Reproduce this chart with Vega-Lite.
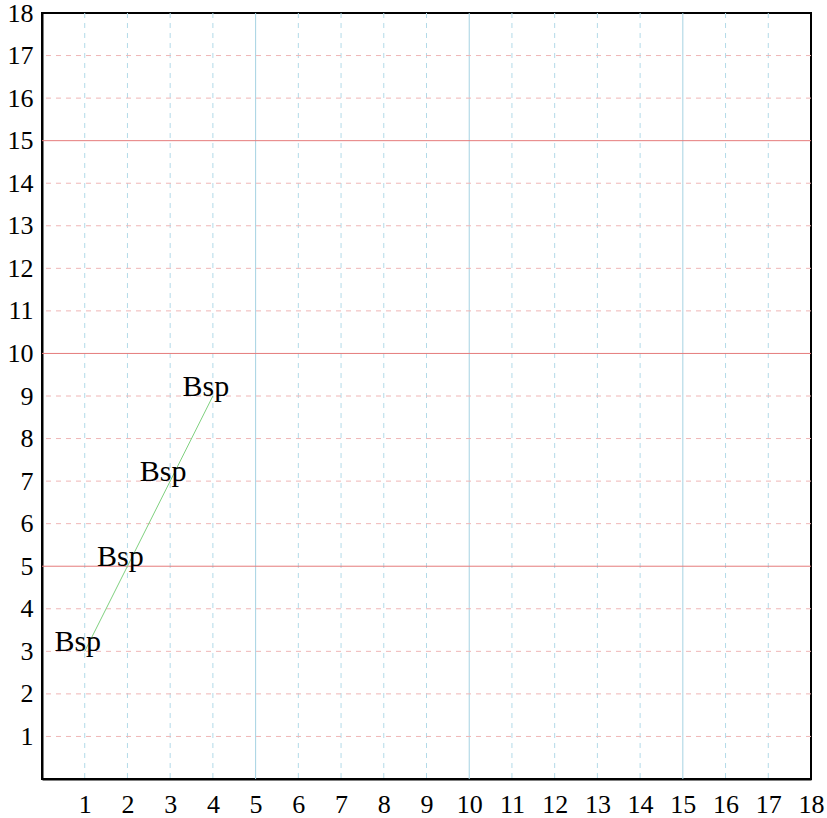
{
  "$schema": "https://vega.github.io/schema/vega-lite/v6.json",
  "autosize": {"type": "none"},
  "width": 769,
  "height": 766,
  "padding": {"left": 42, "top": 13, "right": 16, "bottom": 39},
  "background": "white",
  "config": {
    "view": {"stroke": "black", "strokeWidth": 2},
    "axis": {
      "labelFont": "Liberation Serif",
      "labelFontSize": 26,
      "labelColor": "black",
      "labelFlush": false,
      "labelOverlap": false,
      "labelBound": false,
      "ticks": false,
      "grid": false,
      "domainColor": "black",
      "domainWidth": 2
    }
  },
  "datasets": {
    "vgrid": [
      {"v": 1, "kind": "vminor"}, {"v": 2, "kind": "vminor"}, {"v": 3, "kind": "vminor"}, {"v": 4, "kind": "vminor"},
      {"v": 5, "kind": "vmajor"}, {"v": 6, "kind": "vminor"}, {"v": 7, "kind": "vminor"}, {"v": 8, "kind": "vminor"},
      {"v": 9, "kind": "vminor"}, {"v": 10, "kind": "vmajor"}, {"v": 11, "kind": "vminor"}, {"v": 12, "kind": "vminor"},
      {"v": 13, "kind": "vminor"}, {"v": 14, "kind": "vminor"}, {"v": 15, "kind": "vmajor"}, {"v": 16, "kind": "vminor"},
      {"v": 17, "kind": "vminor"}
    ],
    "hgrid": [
      {"v": 1, "kind": "hminor"}, {"v": 2, "kind": "hminor"}, {"v": 3, "kind": "hminor"}, {"v": 4, "kind": "hminor"},
      {"v": 5, "kind": "hmajor"}, {"v": 6, "kind": "hminor"}, {"v": 7, "kind": "hminor"}, {"v": 8, "kind": "hminor"},
      {"v": 9, "kind": "hminor"}, {"v": 10, "kind": "hmajor"}, {"v": 11, "kind": "hminor"}, {"v": 12, "kind": "hminor"},
      {"v": 13, "kind": "hminor"}, {"v": 14, "kind": "hminor"}, {"v": 15, "kind": "hmajor"}, {"v": 16, "kind": "hminor"},
      {"v": 17, "kind": "hminor"}
    ],
    "points": [
      {"x": 1, "y": 3, "label": "Bsp"},
      {"x": 2, "y": 5, "label": "Bsp"},
      {"x": 3, "y": 7, "label": "Bsp"},
      {"x": 4, "y": 9, "label": "Bsp"}
    ]
  },
  "layer": [
    {
      "data": {"name": "vgrid"},
      "mark": {"type": "rule", "strokeWidth": 1},
      "encoding": {
        "x": {"field": "v", "type": "quantitative", "scale": {"domain": [0, 18], "nice": false, "zero": false},
          "axis": {"title": null, "labelPadding": 12, "values": [1,2,3,4,5,6,7,8,9,10,11,12,13,14,15,16,17,18]}},
        "color": {"field": "kind", "type": "nominal", "legend": null,
          "scale": {"domain": ["vminor", "vmajor", "hminor", "hmajor"], "range": ["#b3dae8", "#a6d2e2", "#efb6b6", "#e57c7c"]}},
        "strokeDash": {"field": "kind", "type": "nominal", "legend": null,
          "scale": {"domain": ["vminor", "vmajor", "hminor", "hmajor"], "range": [[5, 5], [1, 0], [5, 5], [1, 0]]}}
      }
    },
    {
      "data": {"name": "hgrid"},
      "mark": {"type": "rule", "strokeWidth": 1},
      "encoding": {
        "y": {"field": "v", "type": "quantitative", "scale": {"domain": [0, 18], "nice": false, "zero": false},
          "axis": {"title": null, "labelPadding": 9, "values": [1,2,3,4,5,6,7,8,9,10,11,12,13,14,15,16,17,18]}},
        "color": {"field": "kind", "type": "nominal", "legend": null},
        "strokeDash": {"field": "kind", "type": "nominal", "legend": null}
      }
    },
    {
      "data": {"name": "points"},
      "mark": {"type": "line", "color": "#7fd17f", "strokeWidth": 1},
      "encoding": {
        "x": {"field": "x", "type": "quantitative"},
        "y": {"field": "y", "type": "quantitative"}
      }
    },
    {
      "data": {"name": "points"},
      "mark": {"type": "text", "font": "Liberation Serif", "fontSize": 30, "align": "center", "baseline": "alphabetic", "dx": -7, "color": "black"},
      "encoding": {
        "x": {"field": "x", "type": "quantitative"},
        "y": {"field": "y", "type": "quantitative"},
        "text": {"field": "label"}
      }
    }
  ]
}
